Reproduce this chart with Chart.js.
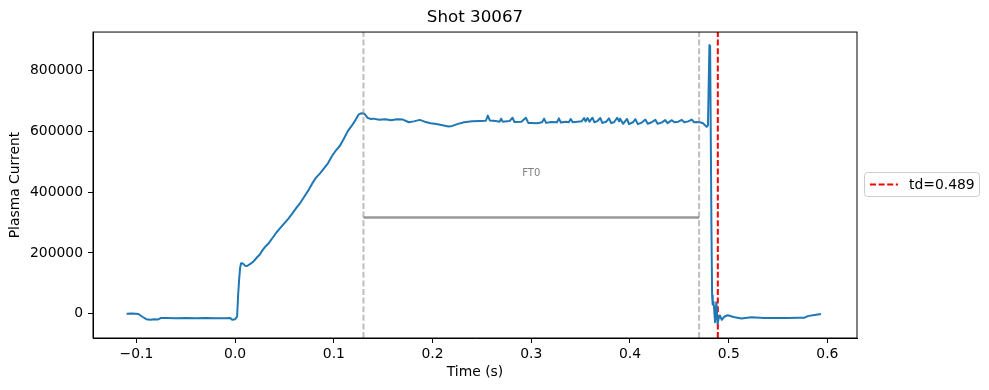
<!DOCTYPE html>
<html>
<head>
<meta charset="utf-8">
<script src="https://cdn.jsdelivr.net/npm/chart.js@4"></script>
<style>
  body { margin: 0; background: #fff; }
  canvas { display: block; }
</style>
</head>
<body>
<canvas id="grafico" width="989" height="390"></canvas>
<script>
// tempo (s) e corrente de plasma
const tempos = [
  -0.110, -0.104, -0.098, -0.094, -0.090, -0.086, -0.082, -0.078, -0.075, -0.070,
  -0.060, -0.050, -0.040, -0.030, -0.020, -0.010, -0.005, -0.003, 0.000, 0.002,
  0.003, 0.004, 0.005, 0.006, 0.008, 0.010, 0.012, 0.015, 0.018, 0.022,
  0.025, 0.028, 0.031, 0.034, 0.038, 0.042, 0.046, 0.050, 0.054, 0.058,
  0.062, 0.066, 0.070, 0.074, 0.078, 0.082, 0.086, 0.090, 0.094, 0.098,
  0.102, 0.106, 0.110, 0.114, 0.118, 0.122, 0.125, 0.128, 0.131, 0.134,
  0.137, 0.140, 0.146, 0.152, 0.158, 0.164, 0.170, 0.176, 0.181, 0.187,
  0.192, 0.198, 0.204, 0.210, 0.216, 0.220, 0.225, 0.232, 0.240, 0.248,
  0.254, 0.256, 0.258, 0.264, 0.268, 0.2695, 0.271, 0.278, 0.281, 0.283,
  0.290, 0.2945, 0.297, 0.300, 0.306, 0.311, 0.313, 0.315, 0.320, 0.326,
  0.328, 0.330, 0.335, 0.338, 0.340, 0.342, 0.347, 0.351, 0.3535, 0.355,
  0.357, 0.359, 0.362, 0.364, 0.367, 0.370, 0.372, 0.376, 0.3787, 0.381,
  0.384, 0.387, 0.389, 0.390, 0.393, 0.397, 0.399, 0.403, 0.4055, 0.408,
  0.412, 0.4156, 0.418, 0.422, 0.4257, 0.428, 0.432, 0.4357, 0.438, 0.4424,
  0.445, 0.449, 0.4525, 0.455, 0.459, 0.4626, 0.465, 0.470, 0.474, 0.4777,
  0.479, 0.4805, 0.4812, 0.4825, 0.4832, 0.4838, 0.4845, 0.4852, 0.4862, 0.4875,
  0.4888, 0.4898, 0.4912, 0.4930, 0.4955, 0.4990, 0.5050, 0.5130, 0.5230, 0.5360,
  0.5500, 0.5600, 0.5700, 0.5770, 0.5800, 0.5870, 0.5935
];
const correntes = [
  0, 500, -1000, -10000, -18000, -20000, -18000, -19000, -14000, -14000,
  -15000, -14500, -15000, -14500, -15000, -15000, -14500, -20000, -18000, -10000,
  60000, 110000, 150000, 166000, 165000, 158000, 157000, 163000, 170000, 185000,
  195000, 210000, 222000, 232000, 250000, 268000, 283000, 298000, 313000, 330000,
  348000, 365000, 385000, 405000, 428000, 448000, 462000, 478000, 495000, 518000,
  537000, 552000, 575000, 600000, 618000, 638000, 655000, 660000, 658000, 645000,
  641000, 642000, 638000, 640000, 637000, 640000, 639000, 630000, 633000, 638000,
  632000, 627000, 624000, 620000, 616000, 618000, 624000, 630000, 633000, 634000,
  635000, 652000, 636000, 634000, 632000, 642000, 632000, 634000, 645000, 631000,
  632000, 645000, 628000, 628000, 627000, 630000, 642000, 628000, 631000, 630000,
  643000, 629000, 632000, 630000, 641000, 630000, 632000, 633000, 644000, 633000,
  644000, 632000, 645000, 630000, 634000, 644000, 628000, 632000, 643000, 627000,
  631000, 645000, 633000, 642000, 625000, 641000, 624000, 630000, 640000, 624000,
  629000, 639000, 625000, 630000, 638000, 625000, 629000, 637000, 627000, 637000,
  630000, 632000, 638000, 630000, 633000, 639000, 630000, 631000, 627000, 615000,
  620000, 884000, 880000, 300000, 60000, 30000, 40000, 20000, -28000, 38000,
  -33000, -16000, -6000, -20000, -10000, -5000, -11000, -16000, -12000, -14000,
  -14000, -14000, -13000, -13000, -8000, -4000, -1000
];

const janelaFT0 = [0.130, 0.470];
const nivelFT0 = 316500;
const rotuloFT0 = { t: 0.300, v: 462000, texto: 'FT0' };
const td = 0.489;

const xLimites = [-0.144, 0.630];
const yLimites = [-80000, 927000];
const xTicks = [-0.1, 0.0, 0.1, 0.2, 0.3, 0.4, 0.5, 0.6];
const yTicks = [0, 200000, 400000, 600000, 800000];

const FONTE = 'DejaVu Sans';
const AZUL = '#1f77b4';
const TRACO = [6, 2.6];

const linhaVertical = (t, cor, extra = {}) => ({
  data: [{ x: t, y: yLimites[0] }, { x: t, y: yLimites[1] }],
  borderColor: cor,
  borderWidth: 2,
  borderDash: TRACO,
  pointRadius: 0,
  ...extra
});

const formatarTick = (v, casas) => {
  const s = casas == null ? String(v) : v.toFixed(casas);
  return s.replace('-', '\u2212');
};

const moldura = {
  id: 'moldura',
  afterDraw(chart) {
    const { ctx, chartArea: a, scales } = chart;
    ctx.save();
    ctx.strokeStyle = '#000';
    ctx.lineWidth = 1;
    ctx.strokeRect(a.left, a.top, a.right - a.left, a.bottom - a.top);

    // texto FT0
    ctx.fillStyle = '#808080';
    ctx.font = `10px "${FONTE}"`;
    ctx.textAlign = 'center';
    ctx.textBaseline = 'middle';
    ctx.fillText(rotuloFT0.texto, scales.x.getPixelForValue(rotuloFT0.t), scales.y.getPixelForValue(rotuloFT0.v));

    // legenda
    const lx = 864.5, ly = 172.5, lw = 115, lh = 24;
    ctx.beginPath();
    ctx.roundRect(lx, ly, lw, lh, 3);
    ctx.fillStyle = 'rgba(255,255,255,0.8)';
    ctx.fill();
    ctx.strokeStyle = '#cccccc';
    ctx.stroke();
    ctx.beginPath();
    ctx.setLineDash(TRACO);
    ctx.strokeStyle = 'red';
    ctx.lineWidth = 2;
    ctx.moveTo(870, 184.5);
    ctx.lineTo(898, 184.5);
    ctx.stroke();
    ctx.setLineDash([]);
    ctx.fillStyle = '#000';
    ctx.font = `13.9px "${FONTE}"`;
    ctx.textAlign = 'left';
    ctx.fillText(`td=${td}`, 909, 185);
    ctx.restore();
  }
};

const main = () => {
  const ctx = document.getElementById('grafico');
  if (!ctx) throw 'grafico não encontrado!';

  const serie = tempos.map((t, i) => ({ x: t, y: correntes[i] }));

  new Chart(ctx, {
    type: 'line',
    data: {
      datasets: [
        linhaVertical(janelaFT0[0], 'rgba(128,128,128,0.5)'),
        linhaVertical(janelaFT0[1], 'rgba(128,128,128,0.5)'),
        {
          data: [{ x: janelaFT0[0], y: nivelFT0 }, { x: janelaFT0[1], y: nivelFT0 }],
          borderColor: 'rgba(128,128,128,0.8)',
          borderWidth: 2.5,
          pointRadius: 0
        },
        {
          label: 'Plasma Current',
          data: serie,
          borderColor: AZUL,
          borderWidth: 2,
          borderJoinStyle: 'round',
          pointRadius: 0,
          tension: 0
        },
        linhaVertical(td, 'red', { label: `td=${td}` })
      ]
    },
    options: {
      responsive: false,
      animation: false,
      layout: { padding: { left: 0, right: 132, top: 0, bottom: 0 } },
      plugins: {
        legend: { display: false },
        tooltip: { enabled: false },
        title: {
          display: true,
          text: 'Shot 30067',
          fullSize: false,
          color: '#000',
          font: { family: FONTE, size: 16.7, weight: 'normal' },
          padding: { top: 8, bottom: 4 }
        }
      },
      scales: {
        x: {
          type: 'linear',
          min: xLimites[0],
          max: xLimites[1],
          afterBuildTicks: s => { s.ticks = xTicks.map(v => ({ value: v })); },
          afterFit: s => { s.height = 52; },
          ticks: {
            callback: v => formatarTick(v, 1),
            color: '#000',
            font: { family: FONTE, size: 13.9 },
            padding: 3,
            maxRotation: 0,
            autoSkip: false
          },
          grid: { drawOnChartArea: false, drawTicks: true, tickLength: 5, color: '#000' },
          border: { color: '#000', width: 1 },
          title: {
            display: true,
            text: 'Time (s)',
            color: '#000',
            font: { family: FONTE, size: 13.9 },
            padding: { top: 0, bottom: 9 }
          }
        },
        y: {
          type: 'linear',
          min: yLimites[0],
          max: yLimites[1],
          afterBuildTicks: s => { s.ticks = yTicks.map(v => ({ value: v })); },
          afterFit: s => { s.width = 93; },
          ticks: {
            callback: v => formatarTick(v),
            color: '#000',
            font: { family: FONTE, size: 13.9 },
            padding: 5
          },
          grid: { drawOnChartArea: false, drawTicks: true, tickLength: 5, color: '#000' },
          border: { color: '#000', width: 1 },
          title: {
            display: true,
            text: 'Plasma Current',
            color: '#000',
            font: { family: FONTE, size: 13.9 },
            padding: { top: 7, bottom: 0 }
          }
        }
      }
    },
    plugins: [moldura]
  });
};
main();
</script>
</body>
</html>
